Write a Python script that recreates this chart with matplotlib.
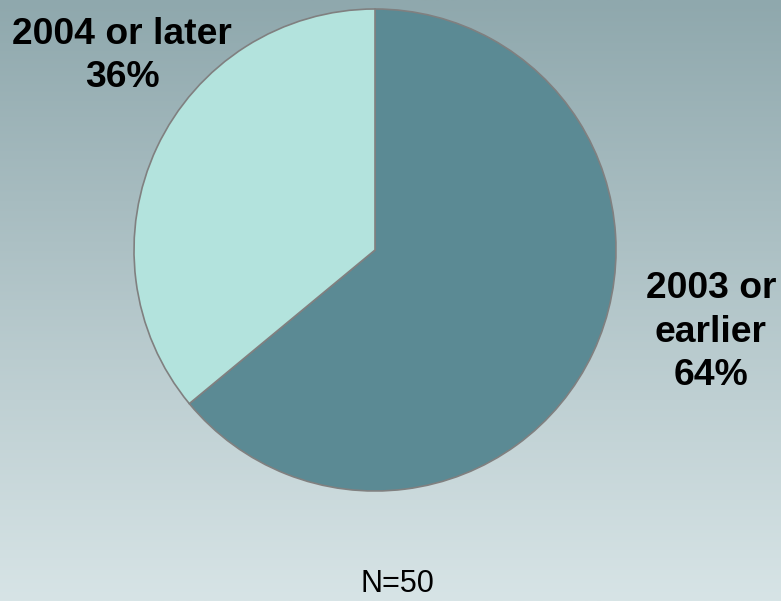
import numpy as np
import matplotlib
matplotlib.use("Agg")
import matplotlib.pyplot as plt

labels = ["2003 or\nearlier", "2004 or later"]
shares = [64, 36]
colors = ["#5b8a94", "#b3e3dd"]
sample_note = "N=50"

W, H = 781, 601
fig = plt.figure(figsize=(W / 100, H / 100), dpi=100)
ax = fig.add_axes([0, 0, 1, 1])

# vertical background gradient
top = np.array([0x8f, 0xa8, 0xad]) / 255
bottom = np.array([0xd7, 0xe4, 0xe6]) / 255
t = np.linspace(0, 1, 256)[:, None]
grad = (top * (1 - t) + bottom * t)[:, None, :]
ax.imshow(grad, extent=[0, W, 0, H], aspect="auto", origin="upper", zorder=0)

ax.pie(shares, colors=colors, startangle=90, counterclock=False,
       center=(375, H - 250), radius=241, frame=True,
       wedgeprops=dict(edgecolor="#808080", linewidth=1.2))
ax.set_xlim(0, W)
ax.set_ylim(0, H)
ax.set_axis_off()

font = "Liberation Sans"
ax.text(122, H - 56, f"{labels[1]}\n{shares[1]}%", ha="center", va="center",
        fontsize=26.8, fontweight="bold", family=font, linespacing=1.32)
ax.text(711, H - 332, f"{labels[0]}\n{shares[0]}%", ha="center", va="center",
        fontsize=26.8, fontweight="bold", family=font, linespacing=1.32)
ax.text(397, H - 584, sample_note, ha="center", va="center",
        fontsize=22, family=font)

fig.savefig("out.png", dpi=100)
